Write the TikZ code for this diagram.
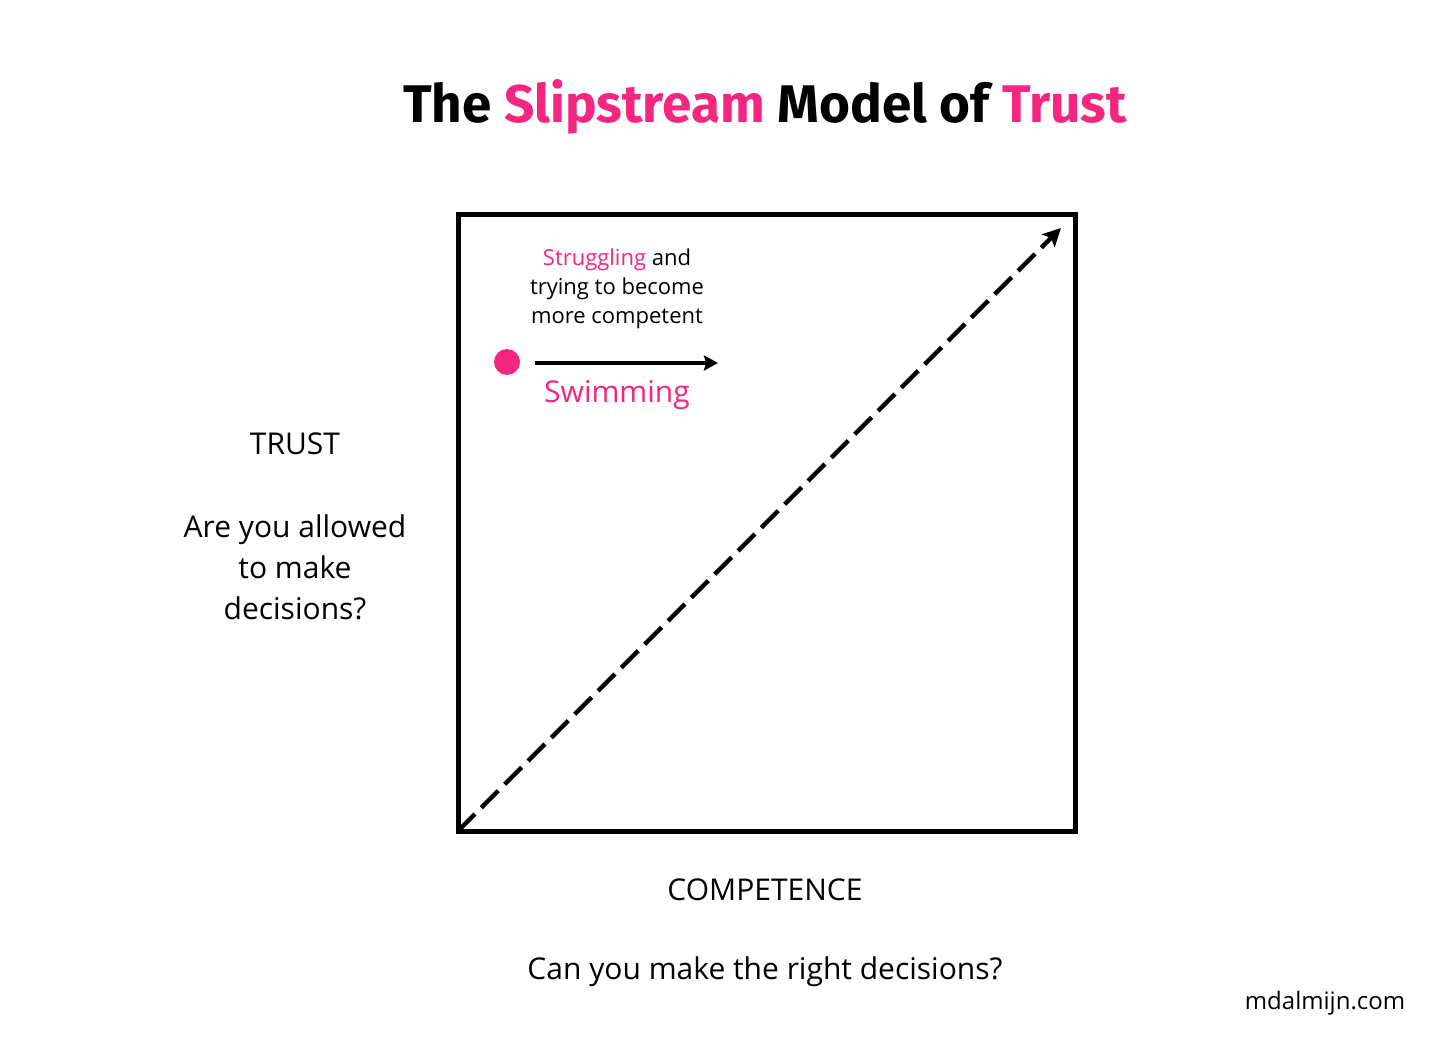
\documentclass[tikz,border=0pt]{standalone}
\usepackage{fontspec}
\setmainfont{Open Sans}
\newfontfamily\titlefont{Fira Sans}
\usetikzlibrary{arrows.meta}
\definecolor{hotpink}{HTML}{F4267F}
\tikzset{
  body/.style={font=\fontsize{30}{41}\selectfont, align=center, inner sep=0pt},
  small/.style={font=\fontsize{22}{29}\selectfont, align=center, inner sep=0pt},
}
\begin{document}
\begin{tikzpicture}[x=1pt,y=-1pt]
\useasboundingbox[fill=white] (0,0) rectangle (1456,1048);
\node[inner sep=0pt, font=\titlefont\bfseries\fontsize{53}{60}\selectfont] (title) at (765,107) {The \textcolor{hotpink}{Slipstream} Model of \textcolor{hotpink}{Trust}};
\node[draw, line width=5, minimum width=617, minimum height=617, inner sep=0pt] (box) at (767,523) {};
\coordinate (origin) at (458,831);
\coordinate (tip) at (1061,228);
\draw[line width=4.5, dash pattern=on 24 off 9, -{Stealth[length=18, width=18, inset=4]}] (origin) -- (tip);
\node[circle, fill=hotpink, minimum size=26, inner sep=0pt] (dot) at (507,362) {};
\coordinate (a1) at (535,363);
\coordinate (a2) at (718,363);
\draw[line width=4, -{Stealth[length=14, width=15, inset=2]}] (a1) -- (a2);
\node[small] (strug) at (617,289) {\textcolor{hotpink}{Struggling} and\\trying to become\\more competent};
\node[body, text=hotpink, font=\fontsize{30}{36}\selectfont] (swim) at (617,395) {Swimming};
\node[body] (trust) at (295,444) {TRUST};
\node[body] (allowed) at (295,567) {Are you allowed\\to make\\decisions?};
\node[body] (comp) at (765,890) {COMPETENCE};
\node[body] (can) at (765,972) {Can you make the right decisions?};
\node[body, font=\fontsize{24}{28}\selectfont] (site) at (1325,1003) {mdalmijn.com};
\end{tikzpicture}
\end{document}
